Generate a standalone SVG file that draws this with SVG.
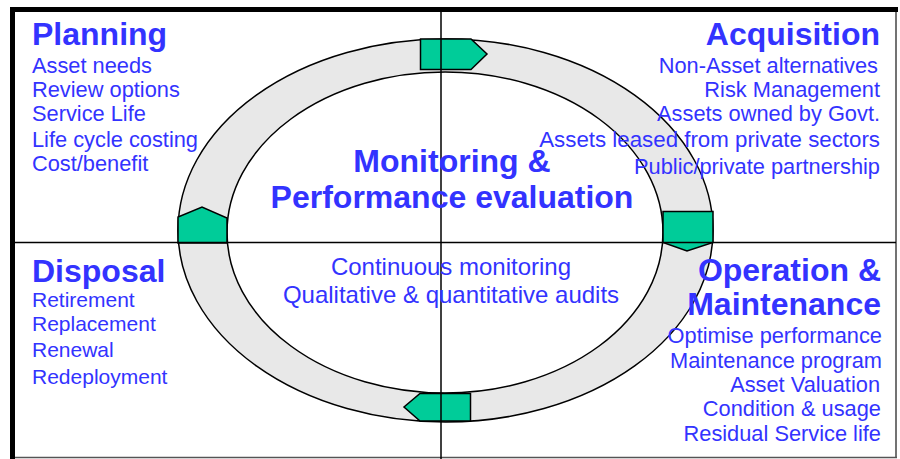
<svg xmlns="http://www.w3.org/2000/svg" width="900" height="459" viewBox="0 0 900 459">
<style>
.t{font-family:"Liberation Sans",Arial,sans-serif;fill:#3333FF}
.h{font-size:32px;font-weight:bold}
.i{font-size:21.8px}
.d{font-size:21px}
.m{font-size:24px}
.r{text-anchor:end}
.c{text-anchor:middle}
.arr{fill:#00CC99;stroke:#000;stroke-width:1.5;stroke-linejoin:miter}
.ax{stroke:#000;stroke-width:1.5}
</style>
<rect width="900" height="459" fill="#fff"/>
<g id="frame">
<line x1="896" y1="8" x2="896" y2="458" stroke="#444" stroke-width="1.5"/>
<line x1="13" y1="457.5" x2="897" y2="457.5" stroke="#555" stroke-width="1.5"/>
<line x1="10" y1="9.5" x2="898" y2="9.5" stroke="#000" stroke-width="5"/>
<line x1="12.5" y1="7" x2="12.5" y2="459" stroke="#000" stroke-width="5"/>
</g>
<g id="cycle">
<ellipse cx="445.5" cy="230.5" rx="267.5" ry="191.5" fill="#E8E8E8" stroke="#000" stroke-width="1.5"/>
<ellipse cx="445" cy="232.5" rx="218" ry="160.5" fill="#fff" stroke="#000" stroke-width="1.5"/>
</g>
<g id="connectors">
<polygon class="arr" points="420.5,39 471,39 487,54 471,69.5 420.5,69.5"/>
<polygon class="arr" points="663,211.5 713,211.5 713,242.5 687,251 663,242.5"/>
<polygon class="arr" points="470.5,393.5 470.5,421 420,421 404,407 420,393.5"/>
<polygon class="arr" points="178,243 227,243 227,218 202,207 178,217"/>
</g>
<g id="axes">
<line class="ax" x1="441" y1="11" x2="441" y2="459"/>
<line class="ax" x1="15" y1="242.5" x2="896" y2="242.5"/>
</g>
<g id="planning" class="t">
<text class="h" x="32" y="45">Planning</text>
<text class="i" x="32" y="73">Asset needs</text>
<text class="i" x="32" y="97">Review options</text>
<text class="i" x="32" y="121">Service Life</text>
<text class="i" x="32" y="147">Life cycle costing</text>
<text class="i" x="32" y="171">Cost/benefit</text>
</g>
<g id="acquisition" class="t">
<text class="h r" x="880" y="45">Acquisition</text>
<text class="i r" x="878" y="73">Non-Asset alternatives</text>
<text class="i r" x="880" y="97">Risk Management</text>
<text class="i r" x="880" y="121">Assets owned by Govt.</text>
<text class="i r" x="880" y="147" style="font-size:22.3px">Assets leased from private sectors</text>
<text class="i r" x="880" y="174">Public/private partnership</text>
</g>
<g id="monitoring" class="t">
<text class="h c" x="452" y="172">Monitoring &amp;</text>
<text class="h c" x="452" y="208">Performance evaluation</text>
<text class="m c" x="451" y="275">Continuous monitoring</text>
<text class="m c" x="451" y="303">Qualitative &amp; quantitative audits</text>
</g>
<g id="disposal" class="t">
<text class="h" x="32" y="282">Disposal</text>
<text class="d" x="32" y="307">Retirement</text>
<text class="d" x="32" y="331">Replacement</text>
<text class="d" x="32" y="357">Renewal</text>
<text class="d" x="32" y="384">Redeployment</text>
</g>
<g id="operation" class="t">
<text class="h r" x="881" y="281">Operation &amp;</text>
<text class="h r" x="881" y="315">Maintenance</text>
<text class="i r" x="882" y="343">Optimise performance</text>
<text class="i r" x="882" y="368">Maintenance program</text>
<text class="i r" x="880" y="392">Asset Valuation</text>
<text class="i r" x="881" y="416">Condition &amp; usage</text>
<text class="i r" x="881" y="441">Residual Service life</text>
</g>
</svg>
